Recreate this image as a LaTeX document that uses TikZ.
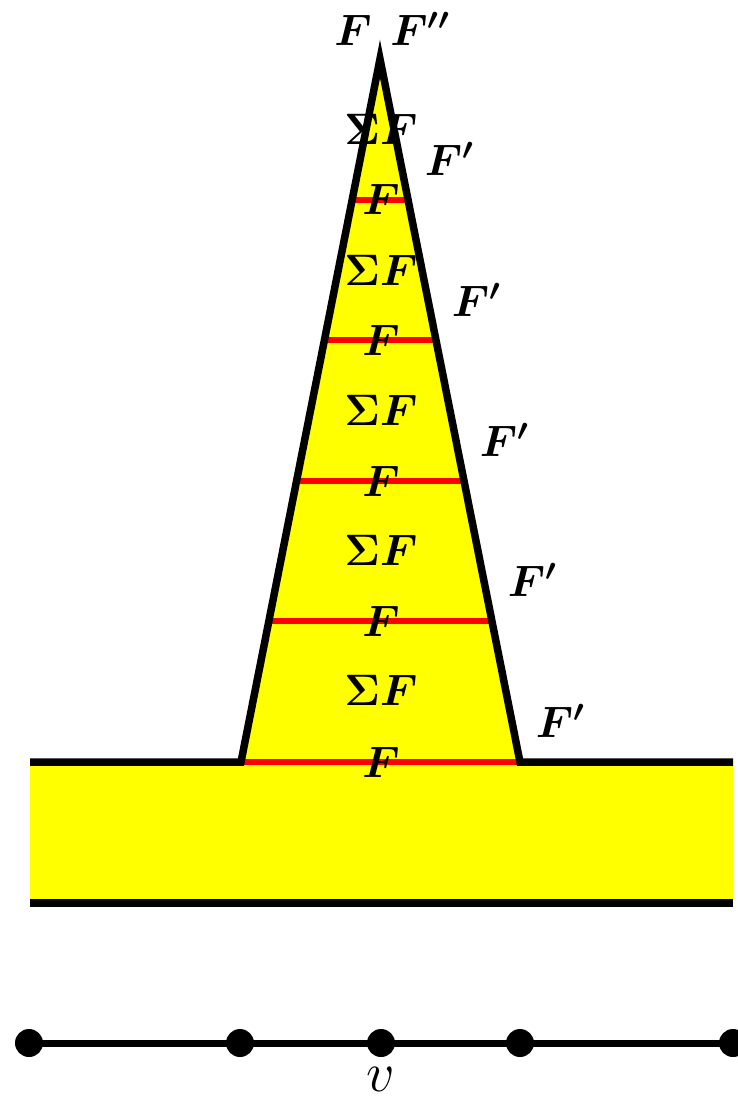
\RequirePackage{fix-cm}
\documentclass[tikz,border=0pt]{standalone}
\usetikzlibrary{calc}
\definecolor{pyellow}{RGB}{255,255,0}
\definecolor{pred}{RGB}{255,0,0}
\begin{document}
\begin{tikzpicture}[x=1pt,y=-1pt,
  outline/.style={draw=black,line width=7.5pt,line join=miter},
  redline/.style={draw=pred,line width=6pt},
  yfill/.style={fill=pyellow,draw=none},
  lbl/.style={inner sep=0pt,anchor=base,font=\fontsize{44}{50}\selectfont\boldmath},
  vlbl/.style={inner sep=0pt,anchor=base,font=\fontsize{56}{62}\selectfont},
  dot/.style={circle,fill=black,inner sep=0pt,minimum size=28pt},
  axis/.style={draw=black,line width=7pt}]
\useasboundingbox (0,0) rectangle (738,1101);
% key points
\coordinate (apex) at (380,59);
\coordinate (lb) at (241,762);
\coordinate (rb) at (520,762);
\coordinate (bl) at (30,762);
\coordinate (br) at (733,762);
\coordinate (bbl) at (30,903);
\coordinate (bbr) at (733,903);
% fills
\path[yfill] (bl) rectangle (bbr);
\path[yfill] (lb) -- (apex) -- (rb) -- cycle;
% red lines
\foreach \t/\n in {0.2/1,0.4/2,0.6/3,0.8/4,1/5}{
  \coordinate (rl\n) at ($(apex)!\t!(lb)$);
  \coordinate (rr\n) at ($(apex)!\t!(rb)$);
  \draw[redline] (rl\n) -- (rr\n);
}
% outlines
\draw[outline] (bl) -- (lb) -- (apex) -- (rb) -- (br);
\draw[outline] (bbl) -- (bbr);
% top labels
\node[lbl] (ftop) at (353,45) {$F$};
\node[lbl] (fpp) at (420,45) {$F''$};
% sigma labels
\foreach \y/\n in {144/1,285/2,425/3,565/4,705/5}{
  \node[lbl] (s\n) at (381,\y) {$\Sigma F$};
}
% F labels at red lines
\foreach \y/\n in {214/1,355/2,496/3,636/4,777/5}{
  \node[lbl] (f\n) at (381,\y) {$F$};
}
% F' labels
\foreach \x/\y/\n in {449/175/1,476/316/2,504/456/3,532/596/4,560/737/5}{
  \node[lbl] (fp\n) at (\x,\y) {$F'$};
}
% bottom axis
\coordinate (d1) at (29,1043);
\coordinate (d2) at (240,1043);
\coordinate (d3) at (381,1043);
\coordinate (d4) at (520,1043);
\coordinate (d5) at (733,1043);
\draw[axis] (d1) -- (d5);
\foreach \n in {1,...,5}{ \node[dot] (dot\n) at (d\n) {}; }
\node[vlbl] (v) at (381,1091) {$v$};
\end{tikzpicture}
\end{document}
